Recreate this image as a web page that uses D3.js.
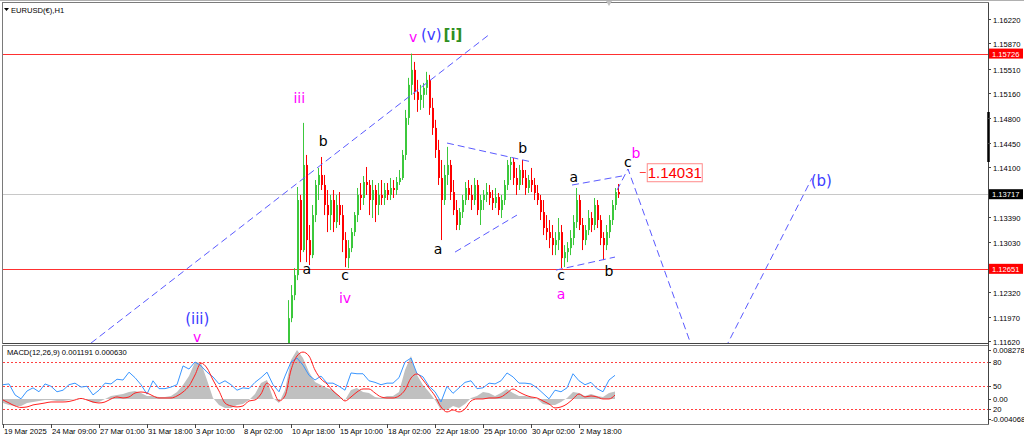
<!DOCTYPE html>
<html><head><meta charset="utf-8">
<script src="https://cdn.jsdelivr.net/npm/d3@7"></script>
<style>body{margin:0;background:#fff;}svg{display:block;}</style>
</head><body><svg id="c" width="1024" height="441"></svg>
<script>
// ---------- DATA ----------
const symbolTitle = "EURUSD(€),H1";
const macdTitle = "MACD(12,26,9) 0.001191 0.000630";
// candles: aggregated, one every 4 hourly bars starting at bar 380
const firstCandleBar = 380, candleStep = 4;
const opens = [1.11345,1.11946,1.12275,1.12561,1.13634,1.12919,1.14135,1.13062,1.12847,1.13419,1.13849,1.13992,1.13849,1.13563,1.13419,1.13634,1.13319,1.13563,1.13419,1.13062,1.12804,1.12947,1.13176,1.13419,1.13706,1.13663,1.13891,1.13849,1.13634,1.13777,1.13563,1.13706,1.13663,1.13777,1.13706,1.13806,1.13777,1.13891,1.13949,1.14278,1.14807,1.15279,1.15493,1.15179,1.15064,1.15136,1.15236,1.15350,1.14950,1.14664,1.14349,1.13949,1.13634,1.13992,1.14135,1.13748,1.13491,1.13277,1.13462,1.13634,1.13806,1.13706,1.13634,1.13849,1.13491,1.13634,1.13706,1.13748,1.13663,1.13591,1.13677,1.13491,1.13634,1.13849,1.14135,1.14178,1.13949,1.13849,1.14063,1.13949,1.13806,1.13920,1.13849,1.13734,1.13634,1.13462,1.13234,1.13176,1.13091,1.12990,1.13062,1.13176,1.12804,1.12890,1.12947,1.13091,1.13319,1.13634,1.13277,1.13062,1.13205,1.13377,1.13277,1.13563,1.13348,1.13091,1.12990,1.13176,1.13348,1.13563,1.13748];
const highs = [1.12204,1.12419,1.12661,1.13820,1.13706,1.14736,1.14278,1.13277,1.13563,1.13920,1.14092,1.14249,1.13992,1.13777,1.13706,1.13777,1.13706,1.13748,1.13563,1.13176,1.13062,1.13234,1.13462,1.13806,1.13877,1.13977,1.14106,1.13920,1.13920,1.13849,1.13877,1.13920,1.13877,1.13877,1.13949,1.13920,1.13963,1.14063,1.14349,1.14921,1.15379,1.15726,1.15607,1.15350,1.15279,1.15307,1.15465,1.15422,1.15093,1.14779,1.14493,1.14206,1.14135,1.14393,1.14206,1.13920,1.13634,1.13520,1.13706,1.13891,1.13920,1.13849,1.13949,1.13920,1.13706,1.13777,1.13877,1.13849,1.13777,1.13806,1.13734,1.13706,1.13920,1.14206,1.14249,1.14235,1.14092,1.14135,1.14206,1.14063,1.13992,1.14092,1.13949,1.13849,1.13706,1.13634,1.13419,1.13348,1.13277,1.13176,1.13377,1.13277,1.12990,1.13033,1.13205,1.13419,1.13806,1.13706,1.13377,1.13277,1.13491,1.13462,1.13663,1.13634,1.13419,1.13176,1.13277,1.13419,1.13634,1.13806,1.13863];
const lows = [1.11275,1.11889,1.12204,1.12490,1.12747,1.12890,1.12747,1.12704,1.12804,1.13319,1.13634,1.13777,1.13419,1.13176,1.13205,1.13176,1.13234,1.13277,1.12890,1.12676,1.12661,1.12890,1.13119,1.13319,1.13491,1.13563,1.13706,1.13419,1.13377,1.13319,1.13419,1.13563,1.13563,1.13634,1.13634,1.13663,1.13706,1.13849,1.13920,1.14206,1.14707,1.15136,1.15064,1.14893,1.14921,1.14950,1.15136,1.14850,1.14564,1.14235,1.13849,1.13062,1.13563,1.13849,1.13634,1.13419,1.13205,1.13205,1.13377,1.13563,1.13634,1.13491,1.13563,1.13419,1.13277,1.13491,1.13605,1.13563,1.13491,1.13520,1.13419,1.13377,1.13563,1.13777,1.13920,1.13849,1.13706,1.13777,1.13849,1.13706,1.13734,1.13748,1.13634,1.13563,1.13348,1.13133,1.13062,1.12947,1.12847,1.12847,1.12919,1.12661,1.12676,1.12747,1.12847,1.12990,1.13234,1.13205,1.12919,1.12990,1.13133,1.13176,1.13205,1.13234,1.12990,1.12776,1.12919,1.13091,1.13277,1.13491,1.13663];
const closes = [1.11946,1.12275,1.12561,1.13634,1.12919,1.14135,1.13062,1.12847,1.13419,1.13849,1.13992,1.13849,1.13563,1.13419,1.13634,1.13319,1.13563,1.13419,1.13062,1.12804,1.12947,1.13176,1.13419,1.13706,1.13663,1.13891,1.13849,1.13634,1.13777,1.13563,1.13706,1.13663,1.13777,1.13706,1.13806,1.13777,1.13891,1.13949,1.14278,1.14807,1.15279,1.15493,1.15179,1.15064,1.15136,1.15236,1.15350,1.14950,1.14664,1.14349,1.13949,1.13634,1.13992,1.14135,1.13748,1.13491,1.13277,1.13462,1.13634,1.13806,1.13706,1.13634,1.13849,1.13491,1.13634,1.13706,1.13748,1.13663,1.13591,1.13677,1.13491,1.13634,1.13849,1.14135,1.14178,1.13949,1.13849,1.14063,1.13949,1.13806,1.13920,1.13849,1.13734,1.13634,1.13462,1.13234,1.13176,1.13091,1.12990,1.13062,1.13176,1.12804,1.12890,1.12947,1.13091,1.13319,1.13634,1.13277,1.13062,1.13205,1.13377,1.13277,1.13563,1.13348,1.13091,1.12990,1.13176,1.13348,1.13563,1.13748,1.13717];

// MACD window: one sample every 8 hourly bars starting at bar 0
const macdStep = 8;
const macdMain = [-0.00064,-0.00095,-0.00111,-0.00111,-0.00064,-0.00048,-0.00032,-0.00016,-0.00016,-0.00032,
 -0.00032,-0.00016,0,0.00016,-0.00016,-0.00064,-0.00048,0,0.00048,0.00064,
 0.00080,0.00111,0.00127,0.00095,0.00048,0.00048,0.00032,0.00032,0.00048,0.00111,
 0.00223,0.00366,0.00588,0.00572,0.00302,0.00016,-0.00095,-0.00143,-0.00143,-0.00095,
 -0.00080,-0.00016,0.00080,0.00254,0.00302,0.00016,-0.00064,0.00143,0.00620,0.00779,
 0.00652,0.00429,0.00270,0.00223,0.00175,0.00143,0.00048,-0.00016,0.00143,0.00175,
 0.00111,0.00095,0.00032,0.00016,0.00048,0.00048,0.00111,0.00461,0.00684,0.00382,
 0.00223,0.00111,-0.00016,-0.00175,-0.00175,-0.00111,-0.00143,-0.00080,0.00016,0.00048,
 0.00111,0.00095,0.00048,0.00095,0.00159,0.00095,0.00048,0.00048,0.00032,0,
 -0.00080,-0.00095,-0.00095,-0.00048,0.00016,0.00111,0.00095,0.00048,0.00080,0.00048,
 0.00032,0.00095,0.00119];
const macdSignal = [-0.00016,-0.00064,-0.00111,-0.00135,-0.00127,-0.00095,-0.00080,-0.00064,-0.00048,-0.00048,
 -0.00048,-0.00040,-0.00016,0.00008,-0.00016,-0.00048,-0.00064,-0.00048,0,0.00032,
 0.00016,0.00032,0.00095,0.00111,0.00095,0.00048,0.00016,0.00016,0.00016,0.00048,
 0.00111,0.00207,0.00382,0.00572,0.00493,0.00302,0.00127,-0.00064,-0.00111,-0.00127,
 -0.00111,-0.00032,-0.00016,0.00080,0.00254,0.00143,-0.00032,0.00048,0.00461,0.00684,
 0.00747,0.00684,0.00461,0.00318,0.00239,0.00127,0.00048,-0.00032,0.00032,0.00111,
 0.00159,0.00159,0.00095,0.00032,0.00016,0.00016,0.00048,0.00143,0.00334,0.00398,
 0.00302,0.00175,0.00048,-0.00127,-0.00207,-0.00175,-0.00207,-0.00159,-0.00032,0,
 0,0.00016,0.00016,0.00032,0.00095,0.00159,0.00111,0.00064,0.00032,0.00016,
 -0.00032,-0.00080,-0.00143,-0.00127,-0.00080,0,0.00080,0.00032,0.00048,0.00032,
 0,0,0.00063];
const oscLine = [51,52,38,33,43,47,42,52,49,42,44,51,53,48,49,38,44,53,52,58,57,67,60,51,39,56,46,46,48,51,
 75,71,80,75,67,61,52,56,51,44,47,46,54,60,67,51,42,62,80,85,76,63,57,62,53,53,49,44,66,65,
 65,56,54,51,53,53,60,80,85,65,61,49,42,29,49,40,47,54,56,46,47,53,52,56,66,61,53,53,52,47,
 40,33,44,42,47,65,56,51,54,46,42,57,63];
const oscLevels = [80, 50, 20];

const priceTicks = ["1.16220","1.15870","1.15510","1.15160","1.14800","1.14450","1.14100","1.13390","1.13030","1.12320","1.11970","1.11620"];
const timeTickBars = [0,64,128,192,256,320,384,448,512,576,640,704,768];
const timeTickLabels = ["19 Mar 2025","24 Mar 09:00","27 Mar 01:00","31 Mar 18:00","3 Apr 10:00","8 Apr 02:00","10 Apr 18:00","15 Apr 10:00","18 Apr 02:00","22 Apr 18:00","25 Apr 10:00","30 Apr 02:00","2 May 18:00"];
const levelPrices = [1.15726, 1.12651];
const bidPrice = 1.13717;
const targetPrice = 1.14031, targetBar = 849;

// wave labels: text, bar, price (baseline), colour key
const waveText  = ["(iii)","v","iii","a","b","c","iv","v","(v)","[i]","a","b","c","a","a","b","c","b","(b)"];
const waveBar   = [259,259,395,405,427,456,456,547,571,600,580,693,744,744,761,808,833,844,1091];
const wavePrice = [1.11862,1.11604,1.15020,1.12576,1.14405,1.12490,1.12162,1.15891,1.15920,1.15920,1.12862,1.14305,1.12490,1.12219,1.13891,1.12547,1.14105,1.14234,1.13834];
const waveColor = ["blue","mag","mag","blk","blk","blk","mag","mag","blue","green","blk","blk","blk","mag","blk","blk","blk","mag","blue"];

// dashed wave lines: [bar, price] vertices
const waveLines = [
  [[117.3,1.11590],[649.3,1.16006]],
  [[592,1.14448],[705.3,1.14177]],
  [[602.7,1.12890],[685.3,1.13419]],
  [[758.7,1.13848],[825.3,1.13977]],
  [[737.3,1.12633],[816,1.12819]],
  [[818.7,1.13776],[833.3,1.14077],[937.3,1.10976],[1078.7,1.13948]]
];

// ---------- DRAW ----------
const svg = d3.select("#c");
const L = 3, R = 988, mainT = 3, mainB = 343, macdT = 346, macdB = 424;
const x = d3.scaleLinear().domain([0, 1313.33]).range([L, R]);
const y = d3.scaleLinear().domain([1.11620, 1.16220]).range([341, 19]);
const ym = d3.scaleLinear().domain([-0.004068, 0.008278]).range([424.5, 347]);
const yo = d3.scaleLinear().domain([0, 100]).range([424.7, 346.3]);
const axisFont = "Liberation Sans, Arial, sans-serif";
const colors = {mag:"#ff00ff", blue:"#3c3cff", blk:"#000000", green:"#2f8f1f"};

svg.append("rect").attr("width",1024).attr("height",441).attr("fill","#fff");
const defs = svg.append("defs");
defs.append("clipPath").attr("id","cm").append("rect").attr("x",L).attr("y",mainT).attr("width",R-L).attr("height",mainB-mainT);
defs.append("clipPath").attr("id","cd").append("rect").attr("x",L).attr("y",macdT).attr("width",R-L).attr("height",macdB-macdT);

// frames
svg.append("line").attr("x1",0).attr("x2",1024).attr("y1",0.5).attr("y2",0.5).attr("stroke","#b0b0b0");
svg.append("rect").attr("x",L-0.5).attr("y",mainT-0.5).attr("width",R-L+1).attr("height",mainB-mainT+1).attr("fill","none").attr("stroke","#7a7a7a");
svg.append("rect").attr("x",L-0.5).attr("y",macdT-0.5).attr("width",R-L+1).attr("height",macdB-macdT+1).attr("fill","none").attr("stroke","#7a7a7a");
svg.append("line").attr("x1",L).attr("x2",R).attr("y1",mainB+0.5).attr("y2",mainB+0.5).attr("stroke","#444");

const gm = svg.append("g").attr("clip-path","url(#cm)");

// horizontal levels
gm.selectAll(".lvl").data(levelPrices).join("line")
  .attr("x1",L).attr("x2",R).attr("y1",d=>Math.round(y(d))+0.5).attr("y2",d=>Math.round(y(d))+0.5)
  .attr("stroke","#ff3030").attr("stroke-width",1);
gm.append("line").attr("x1",L).attr("x2",R).attr("y1",Math.round(y(bidPrice))+0.5).attr("y2",Math.round(y(bidPrice))+0.5)
  .attr("stroke","#c8c8c8");

// candles
const candles = closes.map((c,i)=>({bar:firstCandleBar+i*candleStep,o:opens[i],h:highs[i],l:lows[i],c:c}));
const cg = gm.append("g");
candles.forEach(d=>{
  const cx = Math.round(x(d.bar));
  const col = d.c >= d.o ? "#3cc83c" : "#ff0000";
  cg.append("line").attr("x1",cx+0.5).attr("x2",cx+0.5).attr("y1",y(d.h)).attr("y2",y(d.l)).attr("stroke",col).attr("stroke-width",1);
  const top = Math.min(y(d.o),y(d.c)), hgt = Math.max(1,Math.abs(y(d.o)-y(d.c)));
  cg.append("rect").attr("x",cx).attr("y",top).attr("width",2).attr("height",hgt).attr("fill",col);
});

// dashed wave lines
const ln = d3.line().x(d=>x(d[0])).y(d=>y(d[1]));
gm.selectAll(".wl").data(waveLines).join("path").attr("d",ln)
  .attr("fill","none").attr("stroke","#5a5aff").attr("stroke-width",1).attr("stroke-dasharray","7,4");

// wave labels
waveText.forEach((t,i)=>{
  const big = (t==="(v)"||t==="[i]"||t==="(b)"||t==="(iii)");
  gm.append("text").attr("x",x(waveBar[i])).attr("y",y(wavePrice[i]))
    .attr("text-anchor","middle").attr("font-family","DejaVu Sans, sans-serif")
    .attr("font-size", big?15:14).attr("font-weight", t==="[i]"?"bold":"normal")
    .attr("fill",colors[waveColor[i]]).text(t);
});

// target price label
const tx = x(targetBar), ty = y(targetPrice);
gm.append("line").attr("x1",tx).attr("x2",tx+6).attr("y1",Math.round(ty)+0.5).attr("y2",Math.round(ty)+0.5).attr("stroke","#ff4040");
gm.append("rect").attr("x",tx+7.5).attr("y",ty-8.5).attr("width",55).attr("height",18).attr("fill","#fff").attr("stroke","#ff8a8a");
gm.append("text").attr("x",tx+35).attr("y",ty+5.5).attr("text-anchor","middle").attr("font-family",axisFont)
  .attr("font-size",15).attr("fill","#ff0000").text(targetPrice.toFixed(5));

// titles
svg.append("path").attr("d","M4,8 L9,8 L6.5,11 Z").attr("fill","#000");
svg.append("text").attr("x",11).attr("y",13).attr("font-family",axisFont).attr("font-size",7.6).attr("fill","#000").text(symbolTitle);

// price axis
svg.append("line").attr("x1",R+0.5).attr("x2",R+0.5).attr("y1",mainT).attr("y2",macdB).attr("stroke","#444");
svg.append("line").attr("x1",R+0.5).attr("x2",R+0.5).attr("y1",112).attr("y2",162).attr("stroke","#000").attr("stroke-width",2.5);
const pt = svg.append("g");
priceTicks.forEach(s=>{
  const yy = Math.round(y(+s))+0.5;
  pt.append("line").attr("x1",R).attr("x2",R+3).attr("y1",yy).attr("y2",yy).attr("stroke","#444");
  pt.append("text").attr("x",R+5).attr("y",yy+3).attr("font-family",axisFont).attr("font-size",7.6).attr("fill","#000").text(s);
});
function axisBox(p, fill){
  const yy = y(p);
  svg.append("rect").attr("x",R+1).attr("y",yy-5).attr("width",34).attr("height",10).attr("fill",fill);
  svg.append("text").attr("x",R+4).attr("y",yy+3).attr("font-family",axisFont).attr("font-size",7.6).attr("fill","#fff").text(p.toFixed(5));
}
levelPrices.forEach(p=>axisBox(p,"#ff0000"));
axisBox(bidPrice,"#000000");

// chart shift marker
svg.append("path").attr("d","M606,1 L612,1 L609,6 Z").attr("fill","#c0c0c0");

// ---------- MACD window ----------
const gd = svg.append("g").attr("clip-path","url(#cd)");
const area = d3.area().x((d,i)=>x(i*macdStep)).y0(ym(0)).y1(d=>ym(d));
gd.append("path").datum(macdMain).attr("d",area).attr("fill","#c0c0c0");
gd.selectAll(".ol").data(oscLevels).join("line")
  .attr("x1",L).attr("x2",R).attr("y1",d=>Math.round(yo(d))+0.5).attr("y2",d=>Math.round(yo(d))+0.5)
  .attr("stroke","#ff4040").attr("stroke-dasharray","2,2");
gd.append("path").datum(oscLine).attr("d",d3.line().x((d,i)=>x(i*macdStep)).y(d=>yo(d)))
  .attr("fill","none").attr("stroke","#3a96ff").attr("stroke-width",1);
gd.append("path").datum(macdSignal).attr("d",d3.line().curve(d3.curveMonotoneX).x((d,i)=>x(i*macdStep)).y(d=>ym(d)))
  .attr("fill","none").attr("stroke","#ff2020").attr("stroke-width",1);
svg.append("text").attr("x",7).attr("y",355).attr("font-family",axisFont).attr("font-size",7.6).attr("fill","#000").text(macdTitle);

const macdLabels = [["0.008278", ym(0.008278)+3], ["80", yo(80)], ["50", yo(50)], ["0.00", ym(0)], ["20", yo(20)], ["-0.004068", ym(-0.004068)-5.5]];
macdLabels.forEach(([t,yy])=>{
  svg.append("line").attr("x1",R).attr("x2",R+3).attr("y1",Math.round(yy)+0.5).attr("y2",Math.round(yy)+0.5).attr("stroke","#444");
  svg.append("text").attr("x",t.startsWith("-")?R+3:R+5).attr("y",yy+3).attr("font-family",axisFont).attr("font-size",7.6).attr("fill","#000").text(t);
});

// ---------- time axis ----------
timeTickBars.forEach((b,i)=>{
  const xx = Math.round(x(b))+0.5;
  svg.append("line").attr("x1",xx).attr("x2",xx).attr("y1",macdB).attr("y2",macdB+4).attr("stroke","#444");
  svg.append("text").attr("x",xx+0.5).attr("y",434).attr("font-family",axisFont).attr("font-size",7.6).attr("fill","#000").text(timeTickLabels[i]);
});
</script></body></html>
